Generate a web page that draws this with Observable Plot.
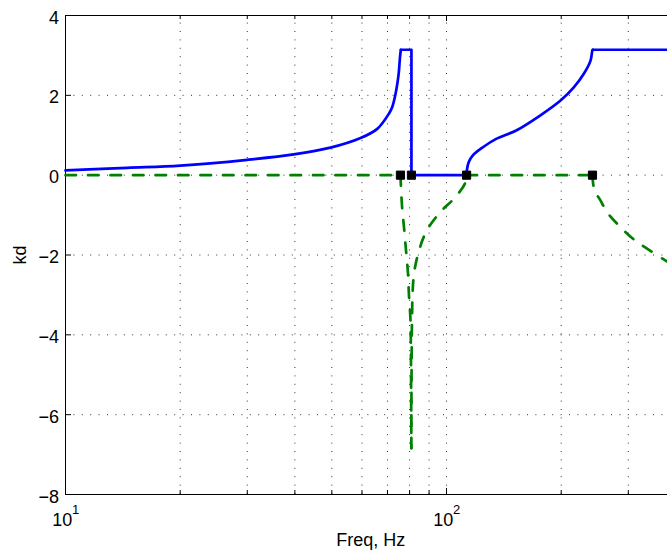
<!DOCTYPE html>
<html>
<head>
<meta charset="utf-8">
<script src="https://cdn.jsdelivr.net/npm/d3@7"></script>
<script src="https://cdn.jsdelivr.net/npm/@observablehq/plot@0.6"></script>
<style>
  body { margin: 0; background: #fff; }
  #chart { width: 667px; height: 555px; overflow: hidden; }
</style>
</head>
<body>
<div id="chart"></div>
<script>
// Real part of kd (solid blue): pass bands rise from 0 to pi, stop bands sit at 0 or pi
const realFreq = [10, 14.5, 20, 30, 39.7, 49.6, 59.5, 65.8, 70.6, 72, 73.5, 74.5, 75.0, 75.5, 75.9,
  80.9, 80.9, 112.9, 113.2, 114.4, 117.1, 124.6, 135, 152.4, 176.4, 199.2, 215.8, 229.3, 238.8, 241.4, 242.2, 400];
const realKd = [0.12, 0.185, 0.24, 0.385, 0.52, 0.69, 0.93, 1.16, 1.54, 1.70, 2.04, 2.37, 2.6, 2.96, 3.1416,
  3.1416, 0, 0, 0.15, 0.33, 0.49, 0.70, 0.91, 1.12, 1.50, 1.87, 2.2, 2.54, 2.87, 3.12, 3.1416, 3.1416];

// Imaginary part of kd (dashed green): zero in pass bands, negative (attenuation) in stop bands
const imagFreq = [10, 75.7, 76.4, 77.4, 78.3, 79.2, 79.7, 80.4, 80.6, 80.85, 81.4, 82.2, 84.4, 88.5, 96.2, 105, 111.8, 112.9,
  241.6, 243, 246, 253.5, 264, 286, 313, 336, 376, 400];
const imagKd = [0, 0, -0.76, -1.34, -1.89, -2.44, -3.01, -3.58, -4.13, -6.84, -3.07, -2.46, -1.94, -1.41, -0.93, -0.57, -0.21, 0,
  0, -0.26, -0.43, -0.63, -0.93, -1.30, -1.64, -1.84, -2.14, -2.3];

// Band edge frequencies (black squares on kd = 0)
const edgeFreq = [75.7, 80.9, 112.9, 241.6];

// Axes ticks
const freqGrid = [20, 30, 40, 50, 60, 70, 80, 90, 100, 200, 300];
const freqDecades = [10, 100];
const kdTicks = [-8, -6, -4, -2, 0, 2, 4];

const xDomain = [10, 400], yDomain = [-8, 4];
const xRange = [65, 675.4], yRange = [494, 15];

// convert a pixel length into data offsets for the inward tick marks
const kdPerPx = (yDomain[1] - yDomain[0]) / (yRange[0] - yRange[1]);
const logPerPx = Math.log10(xDomain[1] / xDomain[0]) / (xRange[1] - xRange[0]);
const fmtKd = d => d < 0 ? "\u2212" + Math.abs(d) : String(d);

const real = realFreq.map((f, i) => ({f, kd: realKd[i]}));
const imag = imagFreq.map((f, i) => ({f, kd: imagKd[i]}));

// curved stretches are smoothed; the flat and vertical band-gap stretches stay straight
const realCurved = [real.slice(0, 15), real.slice(17, 31)];
const realStraight = [real.slice(14, 18), real.slice(30)];
const imagCurved = [imag.slice(1, 10), imag.slice(9, 18), imag.slice(18)];
const imagStraight = [imag.slice(0, 2), imag.slice(17, 19)];

const gridStyle = {stroke: "#333", strokeWidth: 1, strokeDasharray: "1,7.4"};
const font = "'Liberation Sans', Arial, Helvetica, sans-serif";

const blue = {x: "f", y: "kd", stroke: "#0000ff", strokeWidth: 2.7, strokeLinejoin: "round", strokeLinecap: "round"};
const green = {x: "f", y: "kd", stroke: "#008000", strokeWidth: 2.7, strokeDasharray: "10.5,12", strokeLinejoin: "round"};

const chart = Plot.plot({
  width: 667,
  height: 555,
  marginLeft: 65, marginRight: 0, marginTop: 15, marginBottom: 61,
  x: {type: "log", domain: xDomain, range: xRange, axis: null},
  y: {domain: yDomain, range: yRange, axis: null},
  style: {fontFamily: font, fontSize: "18px", background: "#fff", color: "#000"},
  marks: [
    // dotted grid
    Plot.ruleX(freqGrid, {x: d => d, y1: () => yDomain[0], y2: () => yDomain[1], ...gridStyle}),
    Plot.ruleY(kdTicks.filter(v => v > yDomain[0] && v < yDomain[1]),
      {y: d => d, x1: () => xDomain[0], x2: () => xDomain[1], ...gridStyle}),

    // inward tick marks
    Plot.ruleX(freqGrid.concat(freqDecades), {x: d => d,
      y1: () => yDomain[0], y2: d => yDomain[0] + (freqDecades.includes(d) ? 6 : 4) * kdPerPx,
      stroke: "#000", strokeWidth: 1}),
    Plot.ruleX(freqGrid.concat(freqDecades), {x: d => d,
      y1: () => yDomain[1], y2: d => yDomain[1] - (freqDecades.includes(d) ? 6 : 4) * kdPerPx,
      stroke: "#000", strokeWidth: 1}),
    Plot.ruleY(kdTicks, {y: d => d,
      x1: () => xDomain[0], x2: () => xDomain[0] * 10 ** (6 * logPerPx),
      stroke: "#000", strokeWidth: 1}),

    // axes box
    Plot.ruleY(yDomain, {y: d => d, x1: () => xDomain[0], x2: () => xDomain[1], stroke: "#000", strokeWidth: 1}),
    Plot.ruleX(xDomain, {x: d => d, y1: () => yDomain[0], y2: () => yDomain[1], stroke: "#000", strokeWidth: 1}),

    // imaginary part
    ...imagStraight.map(seg => Plot.line(seg, green)),
    ...imagCurved.map(seg => Plot.line(seg, {...green, curve: "catmull-rom"})),

    // real part
    ...realStraight.map(seg => Plot.line(seg, blue)),
    ...realCurved.map(seg => Plot.line(seg, {...blue, curve: "catmull-rom"})),

    // band edges
    Plot.dot(edgeFreq, {x: d => d, y: () => 0, symbol: "square", r: 4.6,
      fill: "#000", stroke: "#000", strokeWidth: 1, strokeLinejoin: "round"}),

    // y tick labels
    Plot.text(kdTicks, {x: () => xDomain[0], y: d => d, text: fmtKd, textAnchor: "end",
      lineAnchor: "bottom", dx: -6.5, dy: 8, fontSize: 18, fill: "#000"}),

    // x tick labels 10^n
    Plot.text(freqDecades, {x: d => d, y: () => yDomain[0], text: () => "10",
      lineAnchor: "bottom", dx: -3.3, dy: 31, fontSize: 18, fill: "#000"}),
    Plot.text(freqDecades, {x: d => d, y: () => yDomain[0], text: d => String(Math.log10(d)),
      textAnchor: "start", lineAnchor: "bottom", dx: 6.5, dy: 19, fontSize: 13, fill: "#000"}),

    // axis titles
    Plot.text(["Freq, Hz"], {x: () => Math.sqrt(xDomain[0] * xDomain[1]), y: () => yDomain[0], text: d => d,
      lineAnchor: "bottom", dy: 51, fontSize: 18, fill: "#000"}),
    Plot.text(["kd"], {x: () => xDomain[0], y: () => (yDomain[0] + yDomain[1]) / 2, text: d => d,
      rotate: -90, lineAnchor: "bottom", dx: -40, fontSize: 18, fill: "#000"})
  ]
});

document.getElementById("chart").appendChild(chart);
</script>
</body>
</html>
